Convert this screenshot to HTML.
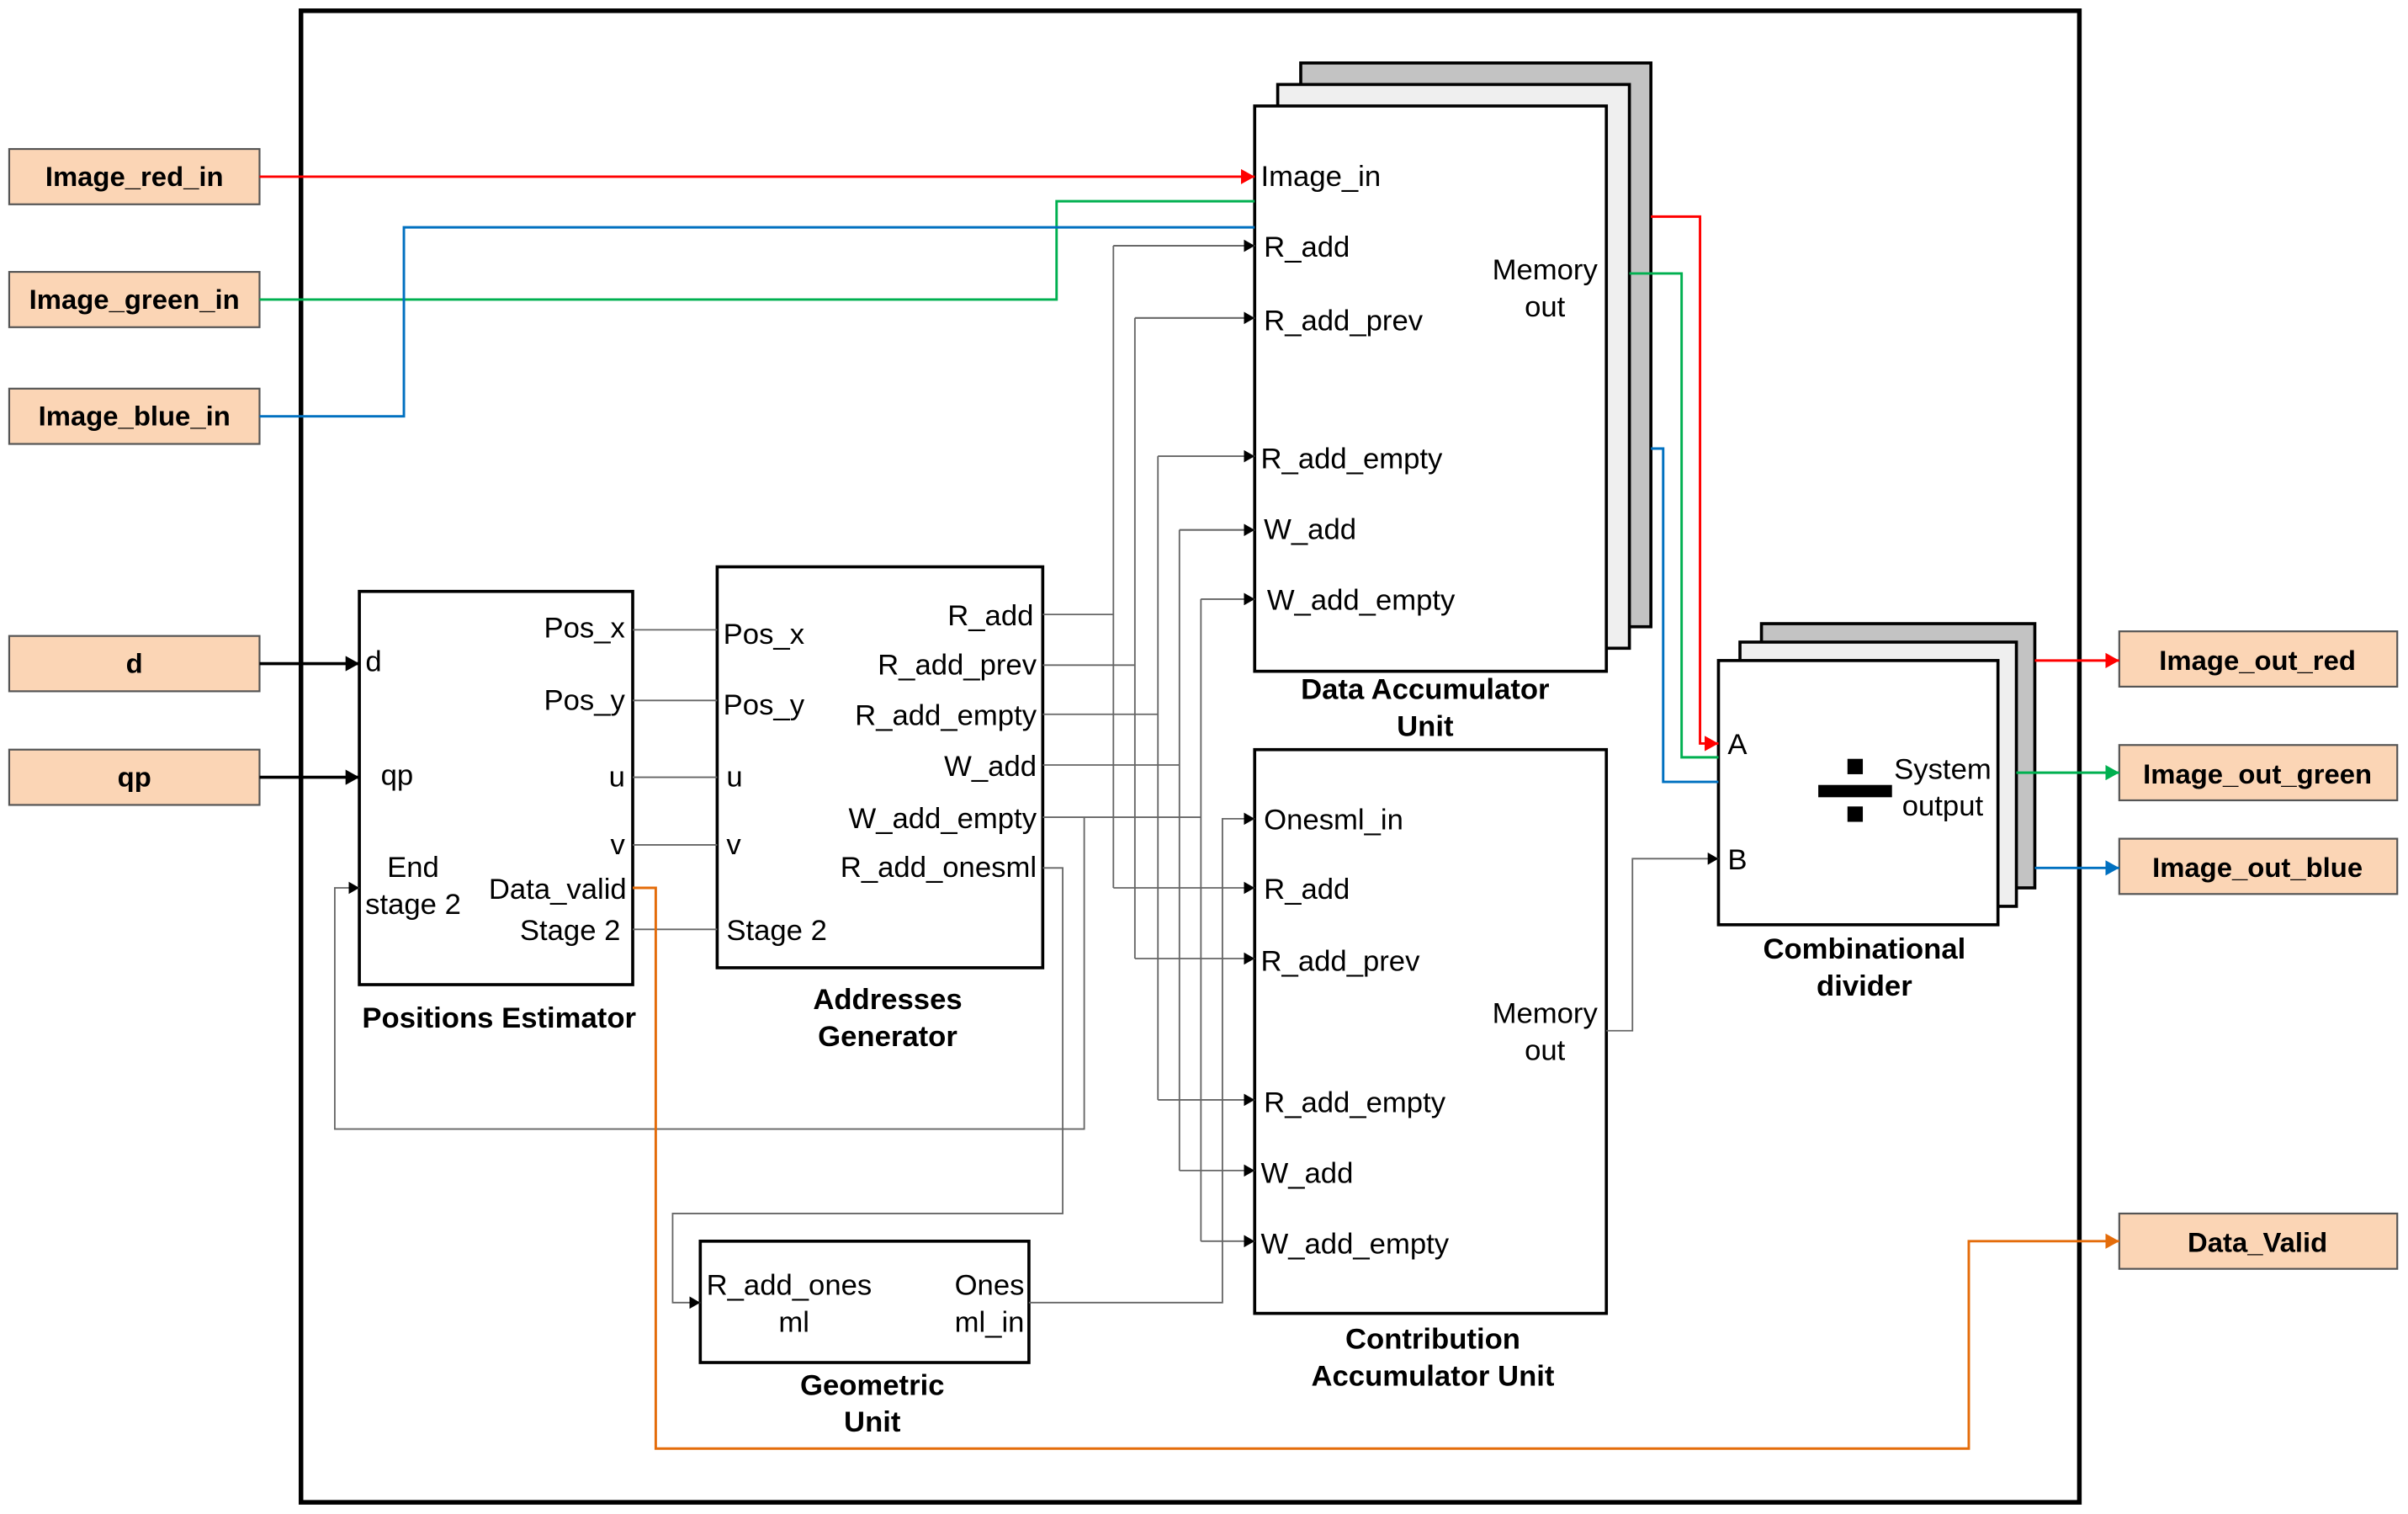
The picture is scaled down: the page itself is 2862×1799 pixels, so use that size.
<!DOCTYPE html>
<html><head><style>html,body{margin:0;padding:0;background:#fff}svg{display:block}</style></head><body>
<svg width="2862" height="1799" viewBox="0 0 1568 985.6" preserveAspectRatio="none" xmlns="http://www.w3.org/2000/svg" font-family="Liberation Sans, Arial, sans-serif">
<defs>
<marker id="ak" markerWidth="8" markerHeight="8" refX="7" refY="4" orient="auto" markerUnits="userSpaceOnUse"><path d="M0,0 L7,4 L0,8z" fill="#000"/></marker>
<marker id="ar" markerWidth="10" markerHeight="10" refX="9" refY="5" orient="auto" markerUnits="userSpaceOnUse"><path d="M0,0 L9,5 L0,10z" fill="#f00"/></marker>
<marker id="ag" markerWidth="10" markerHeight="10" refX="9" refY="5" orient="auto" markerUnits="userSpaceOnUse"><path d="M0,0 L9,5 L0,10z" fill="#00b050"/></marker>
<marker id="ab" markerWidth="10" markerHeight="10" refX="9" refY="5" orient="auto" markerUnits="userSpaceOnUse"><path d="M0,0 L9,5 L0,10z" fill="#0070c0"/></marker>
<marker id="ao" markerWidth="10" markerHeight="10" refX="9" refY="5" orient="auto" markerUnits="userSpaceOnUse"><path d="M0,0 L9,5 L0,10z" fill="#e46c0a"/></marker>
<marker id="aK" markerWidth="10" markerHeight="10" refX="9" refY="5" orient="auto" markerUnits="userSpaceOnUse"><path d="M0,0 L9,5 L0,10z" fill="#000"/></marker>
</defs>
<rect x="196" y="7" width="1158" height="971" fill="none" stroke="#000" stroke-width="3"/>

<!-- input/output boxes -->
<g fill="#fbd5b5" stroke="#555" stroke-width="1.2">
<rect x="6" y="97" width="163" height="36"/><rect x="6" y="177" width="163" height="36"/><rect x="6" y="253" width="163" height="36"/>
<rect x="6" y="414" width="163" height="36"/><rect x="6" y="488" width="163" height="36"/>
<rect x="1380" y="411" width="181" height="36"/><rect x="1380" y="485" width="181" height="36"/><rect x="1380" y="546" width="181" height="36"/><rect x="1380" y="790" width="181" height="36"/>
</g>
<g font-weight="bold" font-size="18" text-anchor="middle">
<text x="87.5" y="121">Image_red_in</text><text x="87.5" y="201">Image_green_in</text><text x="87.5" y="277">Image_blue_in</text>
<text x="87.5" y="438">d</text><text x="87.5" y="512">qp</text>
<text x="1470" y="436">Image_out_red</text><text x="1470" y="510">Image_out_green</text><text x="1470" y="571">Image_out_blue</text><text x="1470" y="815">Data_Valid</text>
</g>

<!-- stacked boxes -->
<rect x="847" y="41" width="228" height="367" fill="#c3c3c3" stroke="#000" stroke-width="2"/>
<rect x="832" y="55" width="229" height="367" fill="#efefef" stroke="#000" stroke-width="2"/>
<rect x="817" y="69" width="229" height="368" fill="#fff" stroke="#000" stroke-width="2"/>
<rect x="1147" y="406" width="178" height="172" fill="#c3c3c3" stroke="#000" stroke-width="2"/>
<rect x="1133" y="418" width="180" height="172" fill="#efefef" stroke="#000" stroke-width="2"/>
<rect x="1119" y="430" width="182" height="172" fill="#fff" stroke="#000" stroke-width="2"/>
<rect x="817" y="488" width="229" height="367" fill="#fff" stroke="#000" stroke-width="2"/>
<rect x="234" y="385" width="178" height="256" fill="#fff" stroke="#000" stroke-width="2"/>
<rect x="467" y="369" width="212" height="261" fill="#fff" stroke="#000" stroke-width="2"/>
<rect x="456" y="808" width="214" height="79" fill="#fff" stroke="#000" stroke-width="2"/>

<!-- divider icon -->
<rect x="1203" y="494" width="10" height="10"/><rect x="1184" y="511" width="48" height="8"/><rect x="1203" y="525" width="10" height="10"/>

<!-- gray connectors -->
<g fill="none" stroke="#666" stroke-width="1">
<path d="M412,410H467M412,456H467M412,506H467M412,550H467M412,605H467"/>
<path d="M679,400H725M725,160V578"/>
<path d="M679,433H739M739,207V624"/>
<path d="M679,465H754M754,297V716"/>
<path d="M679,498H768M768,345V762"/>
<path d="M679,532H782M782,390V808"/>
<path d="M725,160H817M739,207H817M754,297H817M768,345H817M782,390H817" marker-end="url(#ak)"/>
<path d="M725,578H817" marker-end="url(#ak)"/><path d="M739,624H817" marker-end="url(#ak)"/><path d="M754,716H817" marker-end="url(#ak)"/><path d="M768,762H817" marker-end="url(#ak)"/><path d="M782,808H817" marker-end="url(#ak)"/>
<path d="M725,160H817" marker-end="url(#ak)"/><path d="M739,207H817" marker-end="url(#ak)"/><path d="M754,297H817" marker-end="url(#ak)"/><path d="M768,345H817" marker-end="url(#ak)"/><path d="M782,390H817" marker-end="url(#ak)"/>
<path d="M679,565H692V790H438V848H456" marker-end="url(#ak)"/>
<path d="M670,848H796V533H817" marker-end="url(#ak)"/>
<path d="M706,532V735H218V578H234" marker-end="url(#ak)"/>
<path d="M1046,671H1063V559H1119" marker-end="url(#ak)"/>
</g>
<path d="M169,432H234" stroke="#000" stroke-width="2" marker-end="url(#aK)"/>
<path d="M169,506H234" stroke="#000" stroke-width="2" marker-end="url(#aK)"/>

<!-- colored -->
<g fill="none" stroke-width="1.6">
<path d="M169,115H817" stroke="#f00" marker-end="url(#ar)"/>
<path d="M169,195H688V131H817" stroke="#00b050"/>
<path d="M169,271H263V148H817" stroke="#0070c0"/>
<path d="M1075,141H1107V484H1119" stroke="#f00" marker-end="url(#ar)"/>
<path d="M1061,178H1095V493H1119" stroke="#00b050"/>
<path d="M1075,292H1083V509H1119" stroke="#0070c0"/>
<path d="M1325,430H1380" stroke="#f00" marker-end="url(#ar)"/>
<path d="M1313,503H1380" stroke="#00b050" marker-end="url(#ag)"/>
<path d="M1325,565H1380" stroke="#0070c0" marker-end="url(#ab)"/>
<path d="M412,578H427V943H1282V808H1380" stroke="#e46c0a" marker-end="url(#ao)"/>
</g>

<!-- labels -->
<g font-size="19">
<text x="821" y="121">Image_in</text><text x="823" y="167">R_add</text><text x="823" y="215">R_add_prev</text>
<text x="821" y="305">R_add_empty</text><text x="823" y="351">W_add</text><text x="825" y="397">W_add_empty</text>
<text x="1006" y="182" text-anchor="middle">Memory</text><text x="1006" y="206" text-anchor="middle">out</text>
<text x="823" y="540">Onesml_in</text><text x="823" y="585">R_add</text><text x="821" y="632">R_add_prev</text>
<text x="823" y="724">R_add_empty</text><text x="821" y="770">W_add</text><text x="821" y="816">W_add_empty</text>
<text x="1006" y="666" text-anchor="middle">Memory</text><text x="1006" y="690" text-anchor="middle">out</text>
<text x="1125" y="491">A</text><text x="1125" y="566">B</text>
<text x="1265" y="507" text-anchor="middle">System</text><text x="1265" y="531" text-anchor="middle">output</text>
<text x="238" y="437">d</text><text x="248" y="511">qp</text>
<text x="407" y="415" text-anchor="end">Pos_x</text><text x="407" y="462" text-anchor="end">Pos_y</text>
<text x="407" y="512" text-anchor="end">u</text><text x="407" y="556" text-anchor="end">v</text>
<text x="408" y="585" text-anchor="end">Data_valid</text><text x="404" y="612" text-anchor="end">Stage 2</text>
<text x="269" y="571" text-anchor="middle">End</text><text x="269" y="595" text-anchor="middle">stage 2</text>
<text x="471" y="419">Pos_x</text><text x="471" y="465">Pos_y</text><text x="473" y="512">u</text><text x="473" y="556">v</text><text x="473" y="612">Stage 2</text>
<text x="673" y="407" text-anchor="end">R_add</text><text x="675" y="439" text-anchor="end">R_add_prev</text>
<text x="675" y="472" text-anchor="end">R_add_empty</text><text x="675" y="505" text-anchor="end">W_add</text>
<text x="675" y="539" text-anchor="end">W_add_empty</text><text x="675" y="571" text-anchor="end">R_add_onesml</text>
<text x="460" y="843">R_add_ones</text><text x="517" y="867" text-anchor="middle">ml</text>
<text x="667" y="843" text-anchor="end">Ones</text><text x="667" y="867" text-anchor="end">ml_in</text>
</g>
<g font-size="19" font-weight="bold" text-anchor="middle">
<text x="928" y="455">Data Accumulator</text><text x="928" y="479">Unit</text>
<text x="1214" y="624">Combinational</text><text x="1214" y="648">divider</text>
<text x="325" y="669">Positions Estimator</text>
<text x="578" y="657">Addresses</text><text x="578" y="681">Generator</text>
<text x="568" y="908">Geometric</text><text x="568" y="932">Unit</text>
<text x="933" y="878">Contribution</text><text x="933" y="902">Accumulator Unit</text>
</g>
</svg>
</body></html>
